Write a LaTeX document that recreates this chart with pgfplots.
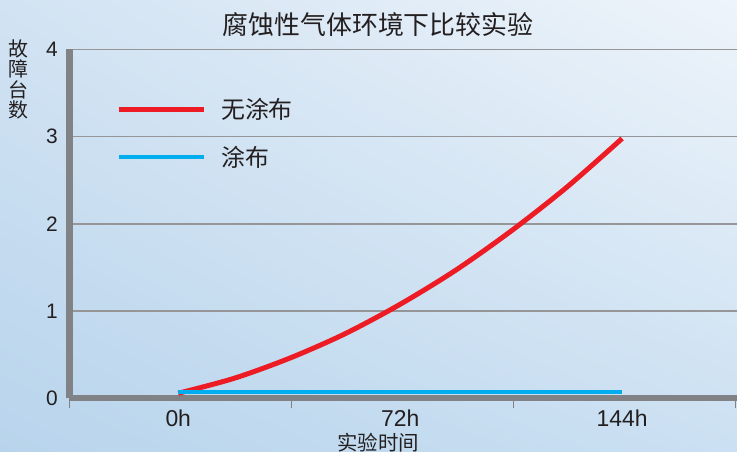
\documentclass[border=0pt]{standalone}
\usepackage{fontspec}
\setmainfont{Liberation Sans}
\newfontfamily\cjk{Noto Sans CJK SC}
\usepackage{pgfplots}
\pgfplotsset{compat=1.18}
\usetikzlibrary{shadings}
\definecolor{bgA}{RGB}{184,212,236}
\definecolor{bgB}{RGB}{210,227,243}
\definecolor{bgC}{RGB}{238,244,250}
\definecolor{bgD}{RGB}{203,224,242}
\definecolor{axgray}{RGB}{128,130,133}
\definecolor{gridgray}{RGB}{150,150,152}
\definecolor{redline}{RGB}{237,28,36}
\definecolor{blueline}{RGB}{0,174,239}
\definecolor{txt}{RGB}{35,31,32}
\begin{document}
\begin{tikzpicture}[x=1bp,y=1bp]
\path[use as bounding box] (0,0) rectangle (737,452);
\shade[lower left=bgA, upper left=bgB, upper right=bgC, lower right=bgD] (0,0) rectangle (737,452);
\begin{axis}[
    at={(69.5bp,53.5bp)}, anchor=south west,
    scale only axis, width=668bp, height=349bp,
    xmin=-0.49, xmax=2.52, ymin=0, ymax=4,
    axis x line*=bottom, axis y line*=left,
    x axis line style={-, axgray, line width=6bp},
    y axis line style={-, axgray, line width=7bp},
    xtick={0,1,2}, xticklabels={0h,72h,144h},
    minor xtick={-0.49,0.51,1.51,2.51},
    ytick={0,1,2,3,4},
    major tick length=0pt, minor tick length=10bp,
    tick align=outside,
    every minor tick/.style={axgray, line width=1.5bp},
    ymajorgrids, grid style={gridgray, line width=1.5bp},
    /pgf/number format/assume math mode=true,
    yticklabel style={font=\fontsize{21}{21}\selectfont, text=txt, inner sep=0pt, xshift=-11.5bp},
    xticklabel style={font=\fontsize{23}{23}\selectfont, text=txt, inner sep=0pt, yshift=-11.5bp},
    legend style={draw=none, fill=none, at={(0.0651,0.866)}, anchor=north west,
        font=\cjk\fontsize{24}{24}\selectfont, text=txt, row sep=26bp, column sep=15bp,
        nodes={inner sep=0pt}},
    legend cell align=left,
    legend image code/.code={\draw[#1] (0bp,0bp) -- (85bp,0bp);},
]
\addplot[redline, line width=5bp, smooth] coordinates {
    (0,0.06) (0.25,0.23) (0.5,0.46) (0.75,0.74) (1,1.08)
    (1.25,1.47) (1.5,1.92) (1.75,2.42) (2,2.98)};
\addlegendentry{无涂布}
\addplot[blueline, line width=4.5bp] coordinates {(0,0.075) (2,0.075)};
\addlegendentry{涂布}
\end{axis}
\node[font=\cjk\fontsize{26}{26}\selectfont, text=txt] at (378,427) {腐蚀性气体环境下比较实验};
\node[font=\cjk\fontsize{20}{20.5}\selectfont, text=txt, align=center, inner sep=0pt] at (18,372.5) {故\\障\\台\\数};
\node[font=\cjk\fontsize{20.5}{20.5}\selectfont, text=txt, inner sep=0pt] at (378,9) {实验时间};
\end{tikzpicture}
\end{document}
